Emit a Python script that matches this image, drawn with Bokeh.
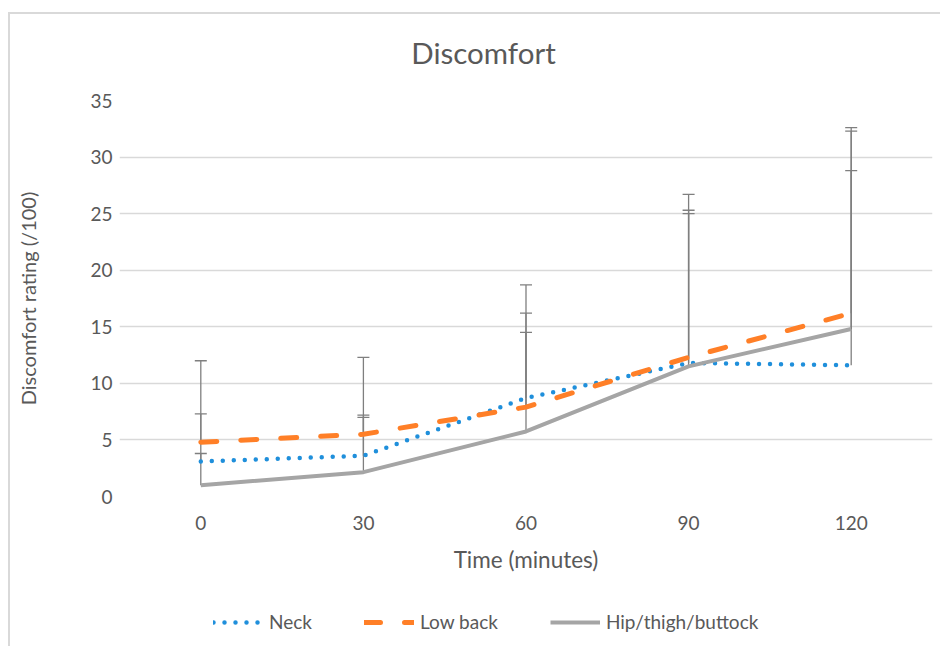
from bokeh.plotting import figure
from bokeh.layouts import column
from bokeh.models import ColumnDataSource, Whisker, TeeHead, Legend, LegendItem, FactorRange, Range1d, FixedTicker, Label
from bokeh.embed import file_html
from bokeh.resources import INLINE

times = ["0", "30", "60", "90", "120"]
neck = [3.1, 3.6, 8.7, 11.8, 11.6]
low_back = [4.8, 5.5, 7.9, 12.3, 16.2]
hip = [1.0, 2.15, 5.75, 11.5, 14.8]
neck_sd = [4.2, 3.4, 7.5, 13.2, 17.2]
low_back_sd = [7.2, 6.8, 10.8, 14.4, 16.4]
hip_sd = [2.8, 5.05, 8.75, 13.8, 17.5]
y_ticks = [0, 5, 10, 15, 20, 25, 30, 35]
series_names = ["Neck", "Low back", "Hip/thigh/buttock"]

FONT = "Lato"
TXT = "#595959"
NECK_STYLE = dict(line_color="#1f8fdb", line_width=4.5, line_dash="0 11", line_cap="round")
LOW_STYLE = dict(line_color="#ff7f27", line_width=5, line_dash="16 24", line_cap="round")
HIP_STYLE = dict(line_color="#a5a5a5", line_width=4)
NAN = float("nan")


def blank(height):
    f = figure(width=930, height=height, x_axis_location=None, y_axis_location=None,
               min_border_left=0, min_border_right=0, min_border_top=0, min_border_bottom=0,
               x_range=Range1d(0, 1), y_range=Range1d(0, 1),
               output_backend="svg", toolbar_location=None)
    f.outline_line_color = None
    f.grid.grid_line_color = None
    f.background_fill_color = "white"
    f.border_fill_color = "white"
    return f


# ---- title strip (frame is aligned with the main chart's frame)
p0 = blank(74)
p0.add_layout(Label(x=364, y=36, x_units="screen", y_units="screen", text="Discomfort",
                    text_align="center", text_baseline="middle", text_font=FONT,
                    text_font_size="29.5px", text_color=TXT))

# ---- main chart
p = figure(x_range=FactorRange(factors=times), y_range=Range1d(0, 35),
           frame_width=813, frame_height=396,
           min_border_left=109, min_border_top=12, min_border_right=8, min_border_bottom=90,
           output_backend="svg", toolbar_location=None)
p.outline_line_color = None
p.background_fill_color = "white"
p.border_fill_color = "white"

p.xgrid.grid_line_color = None
p.ygrid.grid_line_color = "#d9d9d9"
p.ygrid.grid_line_width = 1.3
p.yaxis.ticker = FixedTicker(ticks=y_ticks)

for ax in (p.xaxis[0], p.yaxis[0]):
    ax.axis_line_color = None
    ax.major_tick_line_color = None
    ax.minor_tick_line_color = None
    ax.major_tick_out = 0
    ax.major_tick_in = 0
    ax.minor_tick_out = 0
    ax.minor_tick_in = 0
    ax.major_label_text_font = FONT
    ax.major_label_text_font_size = "19px"
    ax.major_label_text_color = TXT
    ax.axis_label_text_font = FONT
    ax.axis_label_text_font_style = "normal"
    ax.axis_label_text_color = TXT

p.xaxis.axis_label = "Time (minutes)"
p.yaxis.axis_label = "Discomfort rating (/100)"
p.xaxis.axis_label_text_font_size = "22.5px"
p.yaxis.axis_label_text_font_size = "20px"
p.xaxis.major_label_standoff = 19
p.xaxis.axis_label_standoff = 13
p.yaxis.major_label_standoff = 7
p.yaxis.axis_label_standoff = 47

# error bars (upper only)
for vals, sds in ((neck, neck_sd), (low_back, low_back_sd), (hip, hip_sd)):
    src = ColumnDataSource(dict(x=times, lower=vals, upper=[v + s for v, s in zip(vals, sds)]))
    w = Whisker(base="x", upper="upper", lower="lower", source=src, dimension="height",
                line_color="#7f7f7f", line_width=1.3,
                upper_head=TeeHead(size=12, line_color="#7f7f7f", line_width=1.3),
                lower_head=None, level="underlay")
    p.add_layout(w)

p.line(times, neck, **NECK_STYLE)
p.line(times, low_back, **LOW_STYLE)
p.line(times, hip, **HIP_STYLE)

# ---- legend strip (invisible proxy lines carry the legend styles)
p2 = blank(60)
proxies = [p2.line([NAN, NAN], [NAN, NAN], **st) for st in (NECK_STYLE, LOW_STYLE, HIP_STYLE)]
legend = Legend(items=[LegendItem(label=n, renderers=[r]) for n, r in zip(series_names, proxies)],
                orientation="horizontal", location=(94, 13),
                border_line_color=None, background_fill_alpha=0,
                glyph_width=50, glyph_height=20, label_height=20, label_standoff=6, spacing=52,
                label_text_font=FONT, label_text_font_size="19px", label_text_color=TXT,
                margin=0, padding=0)
p2.add_layout(legend, "center")

layout = column(p0, p, p2, spacing=0)
layout.margin = (12, 0, 0, 8)
layout.styles = {"border-left": "2px solid #d9d9d9", "border-top": "2px solid #d9d9d9"}

open("out.html", "w").write(file_html(layout, INLINE))
